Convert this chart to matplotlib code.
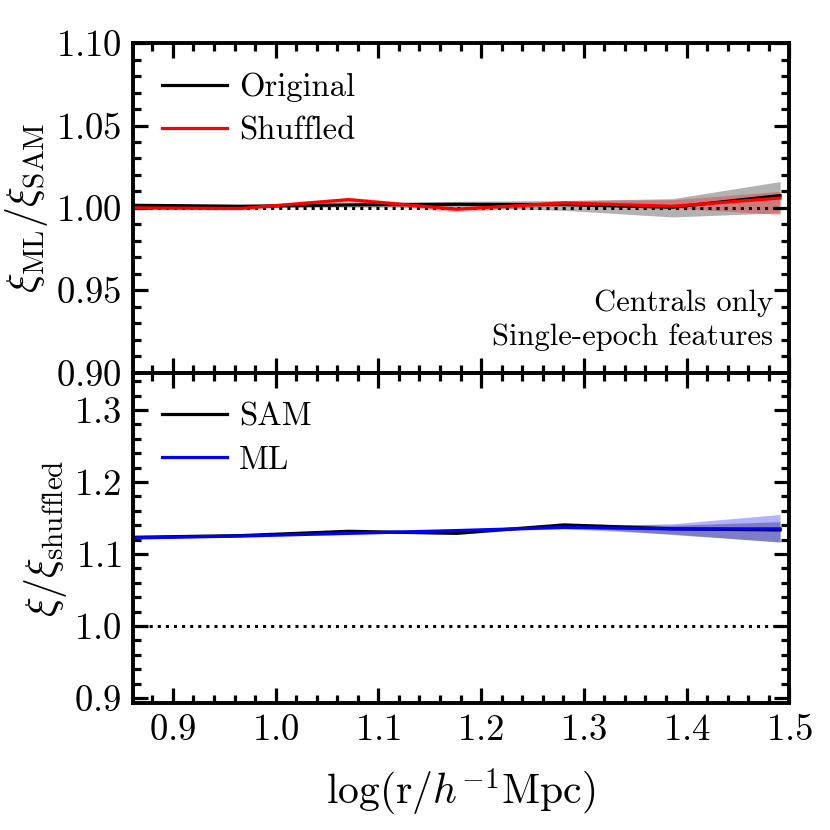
import numpy as np
import matplotlib
matplotlib.use('Agg')
import matplotlib.pyplot as plt
from matplotlib.ticker import MultipleLocator

plt.rcParams['font.family'] = 'serif'
plt.rcParams['font.serif'] = ['cmr10']
plt.rcParams['mathtext.fontset'] = 'cm'
plt.rcParams['axes.formatter.use_mathtext'] = True

# bin centres, log(r / h^-1 Mpc)
logr = [0.861, 0.966, 1.071, 1.176, 1.281, 1.386, 1.491]

# top panel: xi_ML / xi_SAM
orig = [1.0016, 1.0010, 1.0018, 1.0022, 1.0020, 1.0004, 1.0075]
orig_lo = [1.0006, 1.0002, 1.0005, 1.0004, 0.9985, 0.9945, 0.9970]
orig_hi = [1.0026, 1.0018, 1.0032, 1.0040, 1.0045, 1.0056, 1.0160]
shuf = [1.0000, 0.9997, 1.0050, 0.9992, 1.0030, 1.0010, 1.0060]
shuf_lo = [0.9990, 0.9987, 1.0035, 0.9977, 1.0015, 1.0000, 0.9960]
shuf_hi = [1.0010, 1.0007, 1.0065, 1.0007, 1.0045, 1.0050, 1.0100]

# bottom panel: xi / xi_shuffled
sam = [1.1233, 1.1256, 1.1316, 1.1288, 1.1405, 1.1350, 1.1335]
sam_lo = [1.1223, 1.1243, 1.1300, 1.1270, 1.1385, 1.1270, 1.1170]
sam_hi = [1.1243, 1.1269, 1.1332, 1.1306, 1.1425, 1.1400, 1.1450]
ml = [1.1223, 1.1250, 1.1288, 1.1326, 1.1370, 1.1350, 1.1350]
ml_lo = [1.1213, 1.1238, 1.1272, 1.1308, 1.1350, 1.1280, 1.1165]
ml_hi = [1.1233, 1.1262, 1.1304, 1.1344, 1.1390, 1.1420, 1.1550]


def style(ax, xmaj, xmin, ymaj, ymin):
    ax.xaxis.set_major_locator(MultipleLocator(xmaj))
    ax.xaxis.set_minor_locator(MultipleLocator(xmin))
    ax.yaxis.set_major_locator(MultipleLocator(ymaj))
    ax.yaxis.set_minor_locator(MultipleLocator(ymin))
    ax.tick_params(which='both', direction='in', top=True, right=True,
                   labelsize=26.5, width=2.3)
    ax.tick_params(which='major', length=11, pad=8)
    ax.tick_params(which='minor', length=5.5)
    for s in ax.spines.values():
        s.set_linewidth(2.8)


fig = plt.figure(figsize=(8.3, 8.3), dpi=100)
ax1 = fig.add_axes([0.160, 0.551, 0.791, 0.397])
ax2 = fig.add_axes([0.160, 0.153, 0.791, 0.398], sharex=ax1)

ax1.fill_between(logr, orig_lo, orig_hi, color='k', alpha=0.3, lw=0)
ax1.fill_between(logr, shuf_lo, shuf_hi, color='r', alpha=0.3, lw=0)
ax1.axhline(1.0, color='k', ls=':', lw=2.2)
ax1.plot(logr, orig, color='k', lw=2.3, label='Original')
ax1.plot(logr, shuf, color='r', lw=2.3, label='Shuffled')
ax1.set_ylim(0.90, 1.10)
ax1.set_ylabel(r'$\xi_{\rm ML}/\xi_{\rm SAM}$', fontsize=30)
ax1.legend(loc='upper left', frameon=False, fontsize=23.5,
           handlelength=2.0, handletextpad=0.35, borderaxespad=0.5,
           labelspacing=0.45)
ax1.text(0.975, 0.065, 'Centrals only\nSingle-epoch features',
         transform=ax1.transAxes, ha='right', va='bottom', fontsize=22,
         multialignment='right', linespacing=1.3)
style(ax1, 0.1, 0.02, 0.05, 0.01)
plt.setp(ax1.get_xticklabels(), visible=False)

ax2.fill_between(logr, sam_lo, sam_hi, color='k', alpha=0.3, lw=0)
ax2.fill_between(logr, ml_lo, ml_hi, color='b', alpha=0.3, lw=0)
ax2.axhline(1.0, color='k', ls=':', lw=2.2)
ax2.plot(logr, sam, color='k', lw=2.3, label='SAM')
ax2.plot(logr, ml, color='b', lw=2.3, label='ML')
ax2.set_ylim(0.893, 1.352)
ax2.set_xlim(logr[0], 1.5)
ax2.set_ylabel(r'$\xi/\xi_{\rm shuffled}$', fontsize=30)
ax2.set_xlabel(r'$\log(\mathrm{r}/h^{-1}\mathrm{Mpc})$', fontsize=30,
               labelpad=14)
ax2.legend(loc='upper left', frameon=False, fontsize=23.5,
           handlelength=2.0, handletextpad=0.35, borderaxespad=0.5,
           labelspacing=0.45)
style(ax2, 0.1, 0.02, 0.1, 0.02)

fig.savefig('out.png', dpi=100)
